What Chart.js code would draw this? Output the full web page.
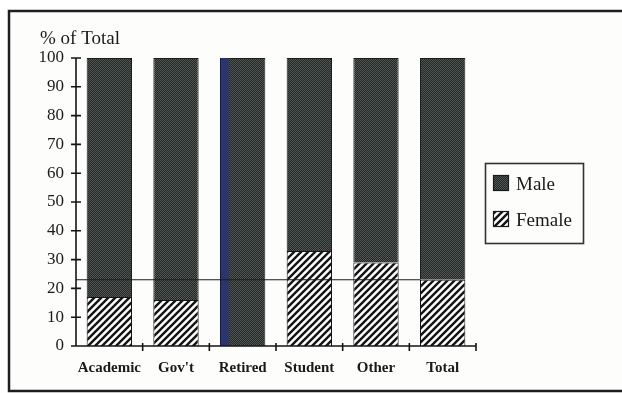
<!DOCTYPE html>
<html>
<head>
<meta charset="utf-8">
<script src="https://cdn.jsdelivr.net/npm/chart.js@4"></script>
<style>
  html, body { margin: 0; padding: 0; background: #ffffff; }
  #wrap { width: 622px; height: 393px; }
</style>
</head>
<body>
<div id="wrap"><canvas id="myChart" width="622" height="393"></canvas></div>
<script>
// shares of each occupation group, in percent
const categories   = ["Academic", "Gov't", "Retired", "Student", "Other", "Total"];
const femaleShare  = [17, 16, 0, 33, 29, 23];
const maleShare    = [83, 84, 100, 67, 71, 77];
const yTicks       = [0, 10, 20, 30, 40, 50, 60, 70, 80, 90, 100];

const serif = "'Liberation Serif', 'DejaVu Serif', serif";

// dark stipple used for the male part of each bar
function stipple()
{
    const c = document.createElement('canvas');
    c.width = 2; c.height = 2;
    const g = c.getContext('2d');
    g.fillStyle = '#222725';
    g.fillRect(0, 0, 2, 2);
    g.fillStyle = '#525856';
    g.fillRect(0, 0, 1, 1);
    g.fillRect(1, 1, 1, 1);
    return g.createPattern(c, 'repeat');
}

// diagonal hatch used for the female part
function hatch()
{
    const s = 7;
    const c = document.createElement('canvas');
    c.width = s; c.height = s;
    const g = c.getContext('2d');
    g.fillStyle = '#ffffff';
    g.fillRect(0, 0, s, s);
    g.strokeStyle = '#141414';
    g.lineWidth = 2.4;
    g.beginPath();
    g.moveTo(0, s); g.lineTo(s, 0);
    g.moveTo(-1, 1); g.lineTo(1, -1);
    g.moveTo(s - 1, s + 1); g.lineTo(s + 1, s - 1);
    g.stroke();
    return g.createPattern(c, 'repeat');
}

const malePattern   = stipple();
const femalePattern = hatch();

const framePlugin = {
    id: 'frame',
    beforeDraw(chart) {
        const ctx = chart.ctx;
        ctx.save();
        ctx.fillStyle = '#ffffff';
        ctx.fillRect(0, 0, chart.width, chart.height);
        ctx.fillStyle = '#fdfdfc';
        ctx.fillRect(9, 11, chart.width - 9, chart.height - 13);
        ctx.strokeStyle = '#1e1e1e';
        ctx.lineWidth = 2.5;
        ctx.beginPath();
        ctx.moveTo(chart.width, 11);
        ctx.lineTo(9, 11);
        ctx.lineTo(9, 391);
        ctx.lineTo(chart.width, 391);
        ctx.stroke();
        ctx.restore();
    }
};

const axesPlugin = {
    id: 'axes',
    afterDatasetsDraw(chart) {
        const ctx = chart.ctx;
        const x = chart.scales.x, y = chart.scales.y;
        const left = x.left, right = x.right;
        const y0 = y.getPixelForValue(0);
        ctx.save();

        // odd colour streak along the left edge of the Retired bar
        const retired = chart.getDatasetMeta(1).data[2];
        ctx.fillStyle = 'rgba(40, 52, 120, 0.85)';
        ctx.fillRect(retired.x - retired.width / 2 + 1, retired.y, 8, y0 - retired.y);

        // reference line at the overall female share
        const totalBar = chart.getDatasetMeta(0).data[5];
        const yRef = y.getPixelForValue(femaleShare[5]);
        ctx.strokeStyle = '#1a1a1a';
        ctx.lineWidth = 1.2;
        ctx.beginPath();
        ctx.moveTo(left, yRef);
        ctx.lineTo(totalBar.x - totalBar.width / 2, yRef);
        ctx.stroke();

        // axis lines with ticks crossing them
        ctx.lineWidth = 1.6;
        ctx.strokeStyle = '#151515';
        ctx.beginPath();
        ctx.moveTo(left, y.getPixelForValue(100));
        ctx.lineTo(left, y0);
        ctx.lineTo(right, y0);
        yTicks.forEach(function(v) {
            const py = y.getPixelForValue(v);
            ctx.moveTo(left - 5, py);
            ctx.lineTo(left + 5, py);
        });
        for (let i = 1; i <= categories.length; i++) {
            const px = left + (right - left) * i / categories.length;
            ctx.moveTo(px, y0 - 3);
            ctx.lineTo(px, y0 + 5);
        }
        ctx.stroke();

        // axis title
        ctx.fillStyle = '#1a1a1a';
        ctx.font = '19px ' + serif;
        ctx.textBaseline = 'alphabetic';
        ctx.textAlign = 'left';
        ctx.fillText('% of Total', 40, 44);

        // legend box, Male first
        ctx.lineWidth = 1.6;
        ctx.strokeStyle = '#333333';
        ctx.strokeRect(485.5, 163.5, 98, 80);
        const items = [chart.data.datasets[1], chart.data.datasets[0]];
        ctx.font = '19px ' + serif;
        items.forEach(function(ds, i) {
            const top = 175 + i * 36;
            ctx.fillStyle = ds.backgroundColor;
            ctx.fillRect(493, top, 16, 16);
            ctx.lineWidth = 1.2;
            ctx.strokeStyle = '#1a1a1a';
            ctx.strokeRect(493.5, top + 0.5, 15, 15);
            ctx.fillStyle = '#1a1a1a';
            ctx.fillText(ds.label, 516, top + 15);
        });
        ctx.restore();
    }
};

const ctx = document.getElementById('myChart').getContext('2d');
const myChart = new Chart(ctx, {
    type: 'bar',
    data: {
        labels: categories,
        datasets: [{
            label: 'Female',
            data: femaleShare,
            backgroundColor: femalePattern,
            borderColor: '#141414',
            borderWidth: 1,
            borderSkipped: 'bottom'
        }, {
            label: 'Male',
            data: maleShare,
            backgroundColor: malePattern,
            borderColor: '#1a1f1d',
            borderWidth: 1,
            borderSkipped: 'bottom'
        }]
    },
    options: {
        responsive: false,
        animation: false,
        events: [],
        layout: { padding: { top: 58, right: 146, left: 0, bottom: 0 } },
        datasets: { bar: { categoryPercentage: 1, barPercentage: 0.68 } },
        plugins: {
            legend: { display: false },
            tooltip: { enabled: false }
        },
        scales: {
            x: {
                stacked: true,
                grid: { display: false },
                border: { display: false },
                ticks: {
                    color: '#1a1a1a',
                    padding: 5,
                    font: { family: serif, size: 15, weight: 'bold' },
                    maxRotation: 0
                },
                afterFit(scale) { scale.height = 47; }
            },
            y: {
                stacked: true,
                min: 0,
                max: 100,
                grid: { display: false },
                border: { display: false },
                ticks: {
                    stepSize: 10,
                    color: '#1a1a1a',
                    padding: 4,
                    font: { family: serif, size: 17 }
                },
                afterFit(scale) { scale.width = 76; }
            }
        }
    },
    plugins: [framePlugin, axesPlugin]
});
</script>
</body>
</html>
